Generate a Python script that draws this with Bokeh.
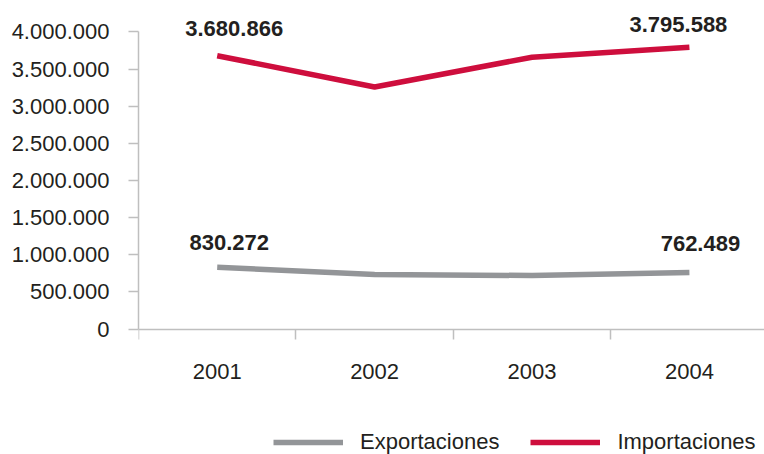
from bokeh.plotting import figure
from bokeh.models import Range1d, FixedTicker, Legend, LegendItem, Label, LinearAxis
from bokeh.embed import file_html
from bokeh.resources import INLINE

# ---- data ----
years = ["2001", "2002", "2003", "2004"]
exportaciones = [830272, 735000, 720000, 762489]
importaciones = [3680866, 3260000, 3660000, 3795588]
y_ticks = [0, 500000, 1000000, 1500000, 2000000, 2500000, 3000000, 3500000, 4000000]
y_tick_labels = ["0", "500.000", "1.000.000", "1.500.000", "2.000.000",
                 "2.500.000", "3.000.000", "3.500.000", "4.000.000"]
series_names = ["Exportaciones", "Importaciones"]

# ---- style ----
FONT = "Liberation Sans"
FS = "22px"
TXT = "#231F20"
AXIS = "#BFBFBF"
GRAY = "#939598"
RED = "#CE0E3D"

x_pos = [i + 0.5 for i in range(len(years))]

p = figure(width=764, height=454, output_backend="svg", toolbar_location=None,
           x_range=Range1d(0, 3.977), y_range=Range1d(-1690000, 4424000),
           min_border_left=138, min_border_right=0, min_border_top=0,
           min_border_bottom=0, outline_line_color=None,
           x_axis_type=None, y_axis_type=None)
p.grid.visible = False

# y axis
yax = LinearAxis(ticker=FixedTicker(ticks=y_ticks, minor_ticks=[]),
                 major_label_overrides={t: l for t, l in zip(y_ticks, y_tick_labels)},
                 bounds=(y_ticks[0], y_ticks[-1]))
yax.axis_line_color = AXIS
yax.axis_line_width = 1.5
yax.major_tick_line_color = AXIS
yax.major_tick_line_width = 1.5
yax.major_tick_in = 0
yax.major_tick_out = 10
yax.minor_tick_line_color = None
yax.minor_tick_out = 0
yax.major_label_text_font = FONT
yax.major_label_text_font_size = FS
yax.major_label_text_color = TXT
yax.major_label_standoff = 19
p.add_layout(yax, "left")

# x axis at y=0 (ticks at category boundaries, labels at centers)
xax = LinearAxis(ticker=FixedTicker(ticks=x_pos, minor_ticks=[float(i) for i in range(len(years) + 1)]),
                 major_label_overrides={x: y for x, y in zip(x_pos, years)},
                 fixed_location=0)
xax.axis_line_color = AXIS
xax.axis_line_width = 1.5
xax.major_tick_line_color = None
xax.major_tick_in = 0
xax.major_tick_out = 0
xax.minor_tick_line_color = AXIS
xax.minor_tick_line_width = 1.5
xax.minor_tick_in = 0
xax.minor_tick_out = 10
xax.major_label_text_font = FONT
xax.major_label_text_font_size = FS
xax.major_label_text_color = TXT
xax.major_label_standoff = 25
p.add_layout(xax, "below")

r_exp = p.line(x_pos, exportaciones, line_color=GRAY, line_width=5.5)
r_imp = p.line(x_pos, importaciones, line_color=RED, line_width=5.5)

# data labels: (series values, index, x_offset, y_offset)
label_specs = [(importaciones, 0, 17, 27), (importaciones, 3, -11, 23),
               (exportaciones, 0, 12, 25), (exportaciones, 3, 11, 29)]
for vals, i, dx, dy in label_specs:
    txt = f"{vals[i]:,}".replace(",", ".")
    p.add_layout(Label(x=x_pos[i], y=vals[i], text=txt, x_offset=dx, y_offset=dy,
                       text_align="center", text_baseline="middle",
                       text_font=FONT, text_font_style="bold",
                       text_font_size=FS, text_color=TXT))

legend = Legend(items=[LegendItem(label=series_names[0], renderers=[r_exp]),
                       LegendItem(label=series_names[1], renderers=[r_imp])],
                orientation="horizontal", location=(135, -1), padding=0, margin=0,
                glyph_width=70, glyph_height=24, label_standoff=17, spacing=31,
                label_text_font=FONT, label_text_font_size=FS,
                label_text_color=TXT, border_line_color=None,
                background_fill_alpha=0)
p.add_layout(legend, "center")

open("out.html", "w").write(file_html(p, INLINE))
